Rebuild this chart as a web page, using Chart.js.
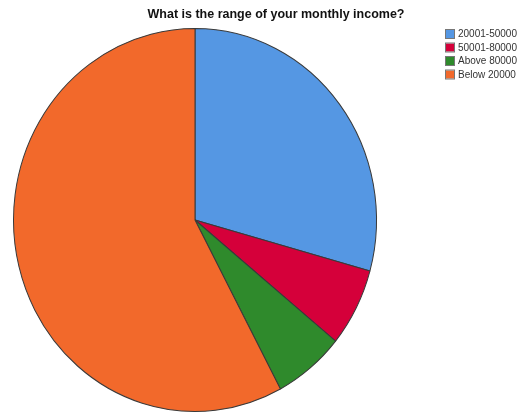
<!DOCTYPE html>
<html>
<head>
<meta charset="utf-8">
<script src="https://cdn.jsdelivr.net/npm/chart.js@4/dist/chart.umd.min.js"></script>
<style>
  html, body { margin: 0; padding: 0; background: #fff; }
  #wrap { width: 525px; height: 414px; }
</style>
</head>
<body>
<div id="wrap"><canvas id="incomeChart" width="525" height="414"></canvas></div>
<script>
// Monthly income ranges (share of respondents, %)
const categories = ['20001-50000', '50001-80000', 'Above 80000', 'Below 20000'];
const shares = [29.3, 6.6, 6.3, 57.8];
const colors = ['#5597e3', '#d5003a', '#2f8a2c', '#f2692b'];
const titleText = 'What is the range of your monthly income?';

// pie is a bit taller than wide
const stretchY = 1.055;

const ellipsePlugin = {
    id: 'ellipse',
    beforeDatasetsDraw(chart) {
        const arc = chart.getDatasetMeta(0).data[0];
        const ctx = chart.ctx;
        ctx.save();
        ctx.translate(arc.x, arc.y);
        ctx.scale(1, stretchY);
        ctx.translate(-arc.x, -arc.y);
    },
    afterDatasetsDraw(chart) {
        chart.ctx.restore();
    }
};

// title and boxed legend drawn at fixed spots
const labelsPlugin = {
    id: 'labels',
    afterDraw(chart) {
        const ctx = chart.ctx;
        ctx.save();
        ctx.fillStyle = '#111';
        ctx.font = 'bold 12.5px "Liberation Sans", Arial, sans-serif';
        ctx.textAlign = 'center';
        ctx.textBaseline = 'middle';
        ctx.fillText(titleText, 276, 15);

        ctx.font = '10px "Liberation Sans", Arial, sans-serif';
        ctx.textAlign = 'left';
        chart.data.labels.forEach((label, i) => {
            const y = 34 + i * 13.5;
            ctx.fillStyle = chart.data.datasets[0].backgroundColor[i];
            ctx.fillRect(446, y - 4, 8, 8);
            ctx.strokeStyle = '#777';
            ctx.lineWidth = 1;
            ctx.strokeRect(445.5, y - 4.5, 9, 9);
            ctx.fillStyle = '#333';
            ctx.fillText(label, 458, y + 0.5);
        });
        ctx.restore();
    }
};

new Chart(document.getElementById('incomeChart'), {
    type: 'pie',
    data: {
        labels: categories,
        datasets: [{
            data: shares,
            backgroundColor: colors,
            borderColor: '#3a3a3a',
            borderWidth: 1
        }]
    },
    options: {
        responsive: false,
        animation: false,
        layout: { padding: { left: 13, right: 148, top: 38, bottom: 12 } },
        plugins: {
            legend: { display: false },
            title: { display: false },
            tooltip: { enabled: false }
        }
    },
    plugins: [ellipsePlugin, labelsPlugin]
});
</script>
</body>
</html>
